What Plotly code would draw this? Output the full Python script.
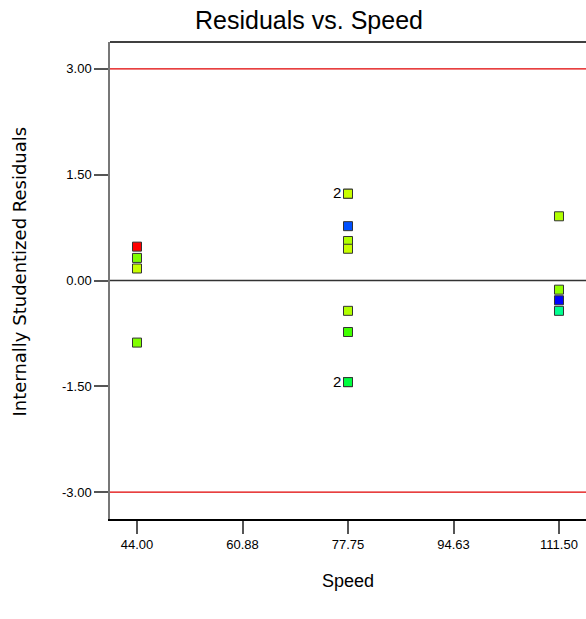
import plotly.graph_objects as go

# Residual diagnostics: internally studentized residuals by speed level
speed = [44.00, 44.00, 44.00, 44.00,
         77.75, 77.75, 77.75, 77.75, 77.75, 77.75, 77.75, 77.75, 77.75,
         111.50, 111.50, 111.50, 111.50]
residual = [0.48, 0.32, 0.17, -0.88,
            1.23, 1.23, 0.77, 0.56, 0.45, -0.43, -0.73, -1.44, -1.44,
            0.91, -0.13, -0.28, -0.43]
point_color = ["#FF0000", "#80FF00", "#C8FF00", "#80FF00",
               "#C8FF00", "#C8FF00", "#0050FF", "#B0FF00", "#C8FF00", "#B0FF00", "#40FF00", "#00FF40", "#00FF40",
               "#B0FF00", "#90FF00", "#0000FF", "#00FF90"]

x_ticks = [44.00, 60.88, 77.75, 94.63, 111.50]
y_ticks = [-3.00, -1.50, 0.00, 1.50, 3.00]
limit = 3.00

# Coincident points labelled with their count
dup_x = [77.75, 77.75]
dup_y = [1.23, -1.44]
dup_n = ["2", "2"]

x_range = [39.68, 115.82]
y_range = [-3.38, 3.38]

FONT = "Liberation Sans, Arial, sans-serif"

fig = go.Figure()

fig.add_trace(go.Scatter(
    x=speed, y=residual, mode="markers",
    marker=dict(symbol="square", size=9, color=point_color,
                line=dict(color="#333333", width=1)),
    showlegend=False, hoverinfo="x+y"))

# outlier limits and zero reference
for yv in (limit, -limit):
    fig.add_shape(type="line", xref="paper", yref="y", x0=0, x1=1, y0=yv, y1=yv,
                  line=dict(color="#E00000", width=1.2))
fig.add_shape(type="line", xref="paper", yref="y", x0=0, x1=1, y0=0, y1=0,
              line=dict(color="#333333", width=1.5))
# top border of the plot frame
fig.add_shape(type="line", xref="paper", yref="paper", x0=0, x1=1, y0=1, y1=1,
              line=dict(color="#000000", width=1.5))

for xv, yv, n in zip(dup_x, dup_y, dup_n):
    fig.add_annotation(x=xv, y=yv, xref="x", yref="y", text=n, showarrow=False,
                       xanchor="right", xshift=-5, yshift=1,
                       font=dict(family=FONT, size=15, color="#000000"))

# axis titles
fig.add_annotation(text="Internally Studentized Residuals", xref="paper", yref="paper",
                   x=(18.5 - 110) / 476, y=(519 - 272) / 477, textangle=-90,
                   xanchor="center", yanchor="middle", showarrow=False,
                   font=dict(family="DejaVu Sans, sans-serif", size=18, color="#000000"))
fig.add_annotation(text="Speed", xref="paper", yref="paper",
                   x=(348 - 110) / 476, y=(519 - 581) / 477,
                   xanchor="center", yanchor="middle", showarrow=False,
                   font=dict(family=FONT, size=18, color="#000000"))

fig.update_layout(
    width=586, height=619,
    margin=dict(l=110, r=0, t=42, b=100),
    paper_bgcolor="white", plot_bgcolor="white",
    font=dict(family=FONT, color="#000000"),
    title=dict(text="Residuals vs. Speed", x=309 / 586, xanchor="center",
               y=1 - 20 / 619, yanchor="middle",
               font=dict(size=25, family=FONT)),
    xaxis=dict(range=x_range, tickvals=x_ticks, ticktext=[f"{v:.2f}" for v in x_ticks],
               showgrid=False, zeroline=False, showline=True, linecolor="#000000", linewidth=1.5,
               ticks="outside", ticklen=13, tickcolor="#555555", tickwidth=1.5,
               tickfont=dict(size=13), ticklabelstandoff=0),
    yaxis=dict(range=y_range, tickvals=y_ticks, ticktext=[f"{v:.2f}" for v in y_ticks],
               showgrid=False, zeroline=False, showline=True, linecolor="#777777", linewidth=1.5,
               ticks="outside", ticklen=14, tickcolor="#555555", tickwidth=1.5,
               tickfont=dict(size=13), ticklabelstandoff=0),
)

fig.write_html("out.html")
